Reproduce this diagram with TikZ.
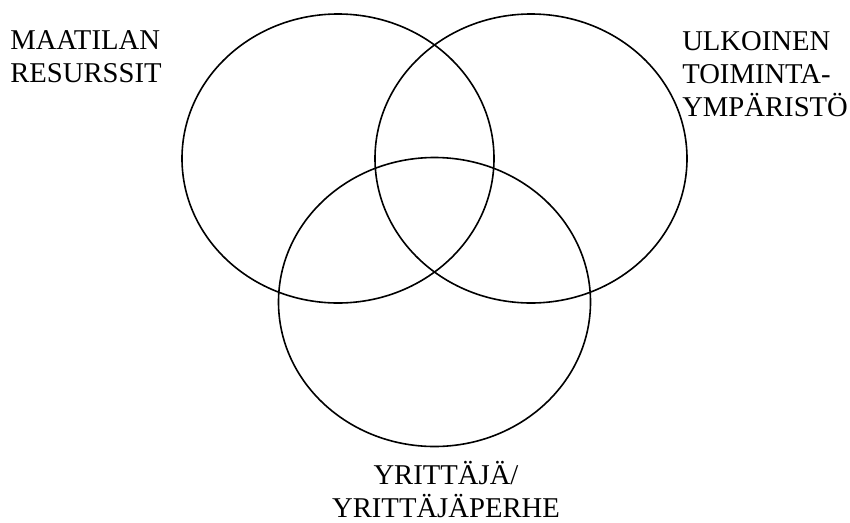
\documentclass[tikz,border=0pt]{standalone}
\usepackage{fontspec}
\setmainfont{Liberation Serif}
\usetikzlibrary{shapes.geometric,positioning}

\begin{document}
\begin{tikzpicture}[
    x=0.75pt, y=-0.75pt,
    ring/.style={ellipse, draw=black, line width=1.2pt, inner sep=0pt,
                minimum width=234pt, minimum height=216.75pt},
    lbl/.style={inner sep=0pt, font=\fontsize{21.5}{24.75}\selectfont}
]
    \useasboundingbox (0,0) rectangle (850,522);

    \node[ring] (resurssit) at (338,158.5) {};
    \node[ring] (ymparisto) at (531,158.5) {};
    \node[ring] (perhe) at (434.5,302) {};

    \node[lbl, align=left, anchor=north west] (txtresurssit) at (10,30) {MAATILAN\\RESURSSIT};
    \node[lbl, align=left, anchor=north west] (txtymparisto) at (682,31) {ULKOINEN\\TOIMINTA-\\YMPÄRISTÖ};
    \node[lbl, align=center, anchor=north] (txtperhe) at (446,461) {YRITTÄJÄ/\\YRITTÄJÄPERHE};
\end{tikzpicture}
\end{document}
